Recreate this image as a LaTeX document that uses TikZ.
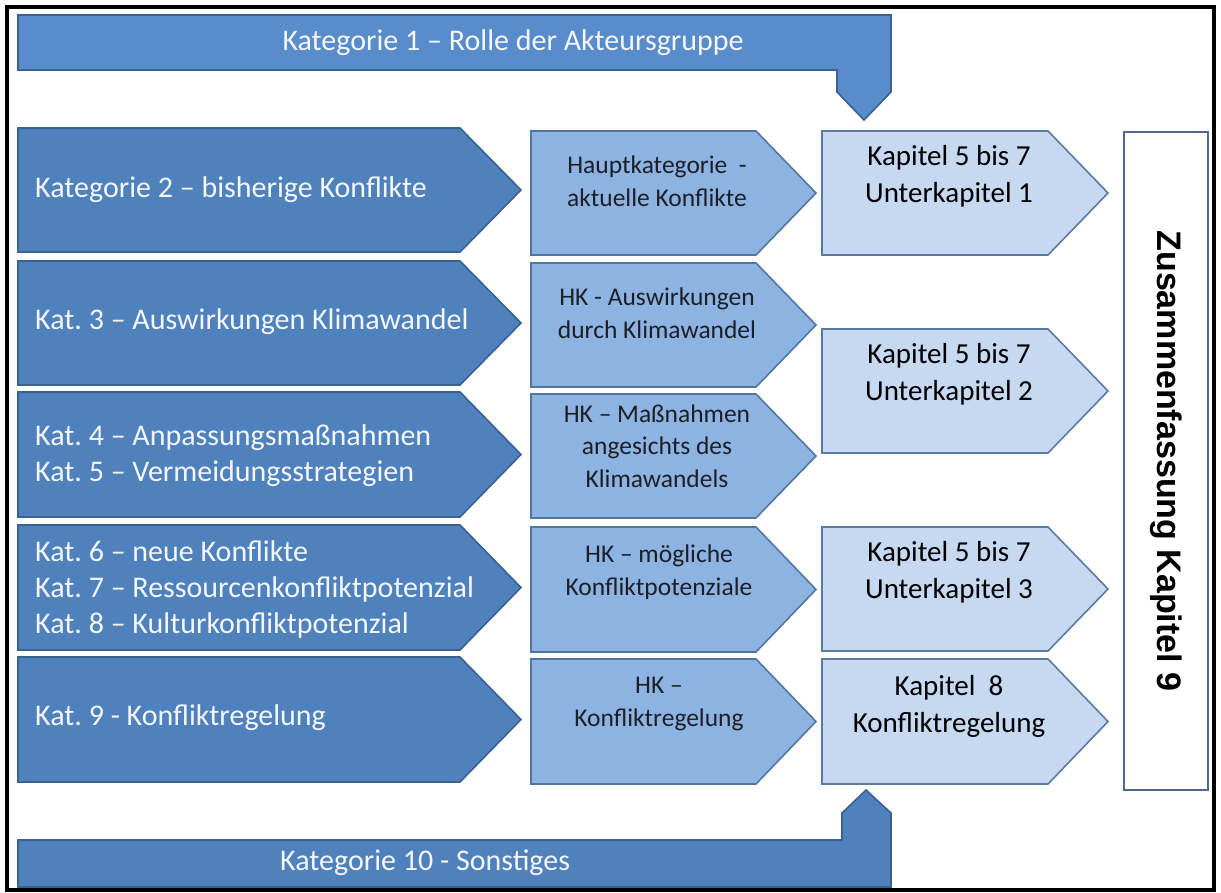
\documentclass[tikz,border=0pt]{standalone}
\usepackage{fontspec}
\setmainfont{Carlito}
\newfontfamily\sumfont{Liberation Sans}
\frenchspacing
\definecolor{catfill}{HTML}{4F81BD}
\definecolor{catline}{HTML}{3A6291}
\definecolor{topfill}{HTML}{588CCB}
\definecolor{hkfill}{HTML}{8DB3E2}
\definecolor{hkline}{HTML}{52779F}
\definecolor{kapfill}{HTML}{C6D9F1}
\definecolor{kapline}{HTML}{5A7BA3}
\definecolor{sumline}{HTML}{4D6A8E}
\definecolor{cattext}{HTML}{F4F6FA}
\definecolor{hktext}{HTML}{1C2026}

% chevron: #1 style, #2 left x, #3 top y, #4 corner x, #5 tip x, #6 height
\newcommand\chevbox[6]{%
  \path[#1] (#2,#3) -- (#4,#3) -- (#5,{#3+#6/2}) -- (#4,{#3+#6}) -- (#2,{#3+#6}) -- cycle;}

\begin{document}
\begin{tikzpicture}[x=1pt,y=-1pt,
  catshape/.style={fill=catfill,draw=catline,line width=1.6pt,line join=miter},
  bandshape/.style={fill=topfill,draw=catline,line width=1.6pt,line join=miter},
  lowshape/.style={fill=catfill,draw=catline,line width=1.6pt,line join=miter},
  hkshape/.style={fill=hkfill,draw=hkline,line width=1.6pt,line join=miter},
  kapshape/.style={fill=kapfill,draw=kapline,line width=1.6pt,line join=miter},
  cattxt/.style={text=cattext,font=\fontsize{30}{36}\selectfont,align=left,anchor=west,inner sep=0pt},
  bandtxt/.style={text=cattext,font=\fontsize{30}{36}\selectfont,inner sep=0pt},
  hktxt/.style={text=hktext,font=\fontsize{25.5}{32.5}\selectfont,align=center,inner sep=0pt},
  kaptxt/.style={text=black,font=\fontsize{29}{37}\selectfont,align=center,inner sep=0pt}]

\useasboundingbox (0,0) rectangle (1221,892);
\fill[white] (0,0) rectangle (1221,892);

% outer frame
\draw[black,line width=3.5pt] (7,7) rectangle (1214,890);

% band on top, bending down into the chapter column
\path[bandshape] (18,15) -- (891,15) -- (891,92) -- (864,120) -- (837,92) -- (837,70) -- (18,70) -- cycle;
\node[bandtxt] (k1) at (513,43) {Kategorie 1 – Rolle der Akteursgruppe};

% band at the bottom, bending up into the chapter column
\path[lowshape] (18,887) -- (891,887) -- (891,813) -- (866,790) -- (842,813) -- (842,840) -- (18,840) -- cycle;
\node[bandtxt,anchor=west] (k10) at (280,863) {Kategorie 10 - Sonstiges};

% category column
\chevbox{catshape}{18}{128}{460}{521}{124}
\chevbox{catshape}{18}{261}{460}{521}{124}
\chevbox{catshape}{18}{392}{460}{521}{125}
\chevbox{catshape}{18}{525}{460}{521}{125}
\chevbox{catshape}{18}{657}{460}{521}{125}

\node[cattxt] (k2) at (35,190) {Kategorie 2 – bisherige Konflikte};
\node[cattxt] (k3) at (35,322) {Kat. 3 – Auswirkungen Klimawandel};
\node[cattxt] (k45) at (35,456) {Kat. 4 – Anpassungsmaßnahmen\\Kat. 5 – Vermeidungsstrategien};
\node[cattxt] (k678) at (35,589) {Kat. 6 – neue Konflikte\\Kat. 7 – Ressourcenkonfliktpotenzial\\Kat. 8 – Kulturkonfliktpotenzial};
\node[cattxt] (k9) at (35,718) {Kat. 9 - Konfliktregelung};

% main category column
\chevbox{hkshape}{531}{131}{756}{816}{124}
\chevbox{hkshape}{531}{263}{756}{816}{124}
\chevbox{hkshape}{531}{394}{756}{816}{124}
\chevbox{hkshape}{531}{527}{756}{816}{125}
\chevbox{hkshape}{531}{659}{756}{816}{125}

\node[hktxt] (hk1) at (657,181) {Hauptkategorie\ \ -\\aktuelle Konflikte};
\node[hktxt] (hk2) at (657,313) {HK - Auswirkungen\\durch Klimawandel};
\node[hktxt] (hk3) at (657,446) {HK – Maßnahmen\\angesichts des\\Klimawandels};
\node[hktxt] (hk4) at (659,572) {HK – mögliche\\Konfliktpotenziale};
\node[hktxt] (hk5) at (659,704) {HK –\\Konfliktregelung};

% chapter column
\chevbox{kapshape}{822}{131}{1048}{1108}{124}
\chevbox{kapshape}{822}{329}{1048}{1108}{124}
\chevbox{kapshape}{822}{527}{1048}{1108}{124}
\chevbox{kapshape}{822}{659}{1048}{1108}{125}

\node[kaptxt] (c1) at (949,176) {Kapitel 5 bis 7\\Unterkapitel 1};
\node[kaptxt] (c2) at (949,374) {Kapitel 5 bis 7\\Unterkapitel 2};
\node[kaptxt] (c3) at (949,572) {Kapitel 5 bis 7\\Unterkapitel 3};
\node[kaptxt] (c4) at (949,706) {Kapitel\ \ 8\\Konfliktregelung};

% summary box
\draw[sumline,line width=1.6pt,fill=white] (1124,132) rectangle (1208,790);
\node[rotate=-90,font=\sumfont\bfseries\fontsize{34}{40}\selectfont,inner sep=0pt] (sum) at (1166,461) {Zusammenfassung Kapitel 9};

\end{tikzpicture}
\end{document}
